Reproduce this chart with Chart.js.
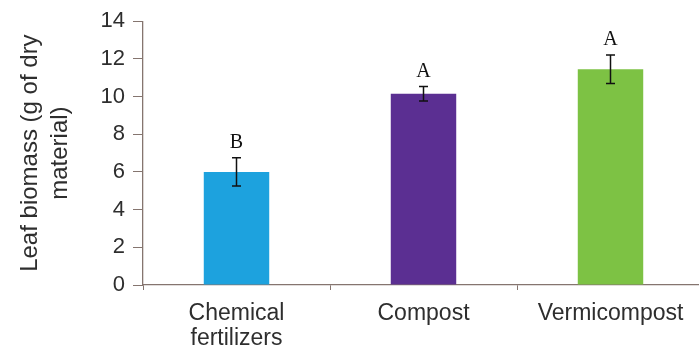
<!DOCTYPE html>
<html>
<head>
<meta charset="utf-8">
<script src="https://cdn.jsdelivr.net/npm/chart.js@4/dist/chart.umd.min.js"></script>
<style>
html,body{margin:0;padding:0;background:#fff;overflow:hidden;}
#wrap{width:704px;height:355px;}
</style>
</head>
<body>
<div id="wrap"><canvas id="c" width="704" height="355"></canvas></div>
<script>
const categories = [["Chemical","fertilizers"], "Compost", "Vermicompost"];
const biomass = [6.0, 10.15, 11.45];
const errors = [0.75, 0.38, 0.75];
const letters = ["B", "A", "A"];
const barColors = ["#1da2de", "#5b2f92", "#7dc244"];
const yTicks = [0, 2, 4, 6, 8, 10, 12, 14];

const axisColor = "#85756f";
const textColor = "#2e2e2e";
const sans = "'Liberation Sans', Arial, sans-serif";

const errorPlugin = {
  id: "errorBars",
  afterDatasetsDraw(chart) {
    const ctx = chart.ctx;
    const meta = chart.getDatasetMeta(0);
    const y = chart.scales.y;
    ctx.save();
    meta.data.forEach((bar, i) => {
      const top = y.getPixelForValue(biomass[i] + errors[i]);
      const bot = y.getPixelForValue(biomass[i] - errors[i]);
      ctx.strokeStyle = "#111";
      ctx.lineWidth = 1.5;
      ctx.beginPath();
      ctx.moveTo(bar.x, top); ctx.lineTo(bar.x, bot);
      ctx.moveTo(bar.x - 4.5, top); ctx.lineTo(bar.x + 4.5, top);
      ctx.moveTo(bar.x - 4.5, bot); ctx.lineTo(bar.x + 4.5, bot);
      ctx.stroke();
      ctx.fillStyle = "#111";
      ctx.font = "20px 'Liberation Serif', serif";
      ctx.textAlign = "center";
      ctx.textBaseline = "middle";
      ctx.fillText(letters[i], bar.x, top - 15);
    });
    ctx.restore();
  }
};

new Chart(document.getElementById("c"), {
  type: "bar",
  data: {
    labels: categories,
    datasets: [{
      data: biomass,
      backgroundColor: barColors,
      borderWidth: 0,
      barPercentage: 0.35,
      categoryPercentage: 1.0
    }]
  },
  options: {
    responsive: false,
    animation: false,
    devicePixelRatio: 1,
    layout: { padding: { left: 15, top: 20, right: 0, bottom: 0 } },
    plugins: { legend: { display: false }, tooltip: { enabled: false } },
    scales: {
      x: {
        offset: true,
        grid: { display: true, offset: true, drawOnChartArea: false, color: axisColor, tickLength: 5, lineWidth: 1 },
        border: { color: axisColor, width: 1.3 },
        ticks: { color: textColor, font: { family: sans, size: 23, lineHeight: 1.05 }, padding: 12, maxRotation: 0 },
        afterFit(s) { s.height = 70; }
      },
      y: {
        min: 0, max: 14,
        afterBuildTicks(s) { s.ticks = yTicks.map(v => ({ value: v })); },
        grid: { display: true, drawOnChartArea: false, color: axisColor, tickLength: 10 },
        border: { color: axisColor, width: 1.3 },
        ticks: { color: textColor, font: { family: sans, size: 22 }, padding: 8 },
        title: {
          display: true,
          text: ["Leaf biomass (g of dry", "material)"],
          color: textColor,
          font: { family: sans, size: 24, lineHeight: 1.25 },
          padding: { top: 0, bottom: 0 }
        },
        afterFit(s) { s.width = 143 - 15; }
      }
    }
  },
  plugins: [errorPlugin]
});
</script>
</body>
</html>
